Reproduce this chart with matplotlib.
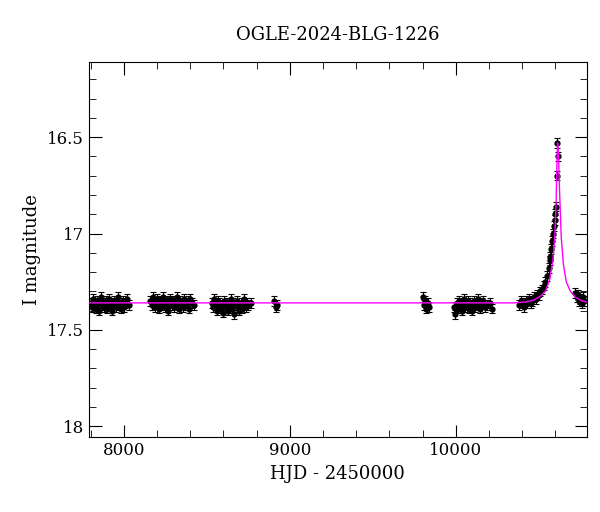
import matplotlib
matplotlib.use('Agg')
import matplotlib.pyplot as plt
from matplotlib.ticker import MultipleLocator

hjd = [
    7800, 7808, 7815, 7822, 7830, 7838, 7845, 7853, 7860, 7868, 7875, 7883, 7890, 7898, 7905,
    7913, 7920, 7928, 7935, 7943, 7950, 7958, 7965, 7973, 7980, 7988, 7995, 8003, 8010, 8020, 8030,
    8160, 8168, 8175, 8183, 8190, 8198, 8205, 8213, 8220, 8228, 8235, 8243, 8250, 8258, 8265,
    8273, 8280, 8288, 8295, 8303, 8310, 8318, 8325, 8333, 8340, 8348, 8355, 8363, 8370, 8378,
    8385, 8393, 8400, 8410, 8420,
    8530, 8538, 8545, 8553, 8560, 8568, 8575, 8583, 8590, 8598, 8605, 8613, 8620, 8628, 8635,
    8643, 8650, 8658, 8665, 8673, 8680, 8688, 8695, 8703, 8710, 8718, 8725, 8733, 8740, 8750, 8765,
    8905, 8915, 8925,
    9800, 9808, 9815, 9823, 9830, 9838,
    9990, 9998, 10005, 10013, 10020, 10028, 10035, 10043, 10050, 10058, 10065, 10073, 10080,
    10088, 10095, 10103, 10110, 10118, 10125, 10133, 10140, 10148, 10155, 10165, 10175, 10190,
    10205, 10220,
    10380, 10390, 10400, 10410, 10420, 10430, 10440, 10450, 10460, 10470, 10480, 10490, 10500,
    10510, 10520, 10530, 10540, 10550, 10560, 10565, 10570, 10575, 10580, 10585, 10590, 10595,
    10598, 10602, 10608, 10612, 10616,
    10720, 10728, 10735, 10742, 10750, 10758, 10765, 10775,
]
mag = [
    17.36, 17.38, 17.34, 17.37, 17.39, 17.35, 17.36, 17.40, 17.33, 17.37, 17.36, 17.38, 17.35,
    17.39, 17.36, 17.34, 17.37, 17.40, 17.36, 17.35, 17.38, 17.36, 17.33, 17.37, 17.39, 17.36,
    17.35, 17.38, 17.36, 17.34, 17.37,
    17.35, 17.37, 17.33, 17.36, 17.38, 17.34, 17.36, 17.39, 17.35, 17.37, 17.33, 17.36, 17.38,
    17.35, 17.40, 17.36, 17.34, 17.37, 17.35, 17.38, 17.36, 17.33, 17.37, 17.39, 17.35, 17.36,
    17.38, 17.34, 17.37, 17.36, 17.35, 17.39, 17.34, 17.36, 17.37,
    17.36, 17.38, 17.34, 17.37, 17.40, 17.35, 17.36, 17.39, 17.37, 17.41, 17.35, 17.38, 17.36,
    17.40, 17.37, 17.34, 17.39, 17.36, 17.42, 17.37, 17.35, 17.38, 17.40, 17.36, 17.39, 17.37,
    17.34, 17.38, 17.36, 17.37, 17.36,
    17.35, 17.38, 17.37,
    17.33, 17.37, 17.35, 17.39, 17.36, 17.38,
    17.38, 17.42, 17.36, 17.39, 17.35, 17.37, 17.40, 17.36, 17.34, 17.38, 17.37, 17.35, 17.39,
    17.36, 17.40, 17.37, 17.35, 17.38, 17.36, 17.34, 17.37, 17.39, 17.36, 17.35, 17.38, 17.37,
    17.36, 17.39,
    17.37, 17.35, 17.36, 17.38, 17.35, 17.36, 17.34, 17.36, 17.35, 17.33, 17.34, 17.32, 17.32,
    17.30, 17.29, 17.27, 17.25, 17.22, 17.18, 17.14, 17.12, 17.08, 17.04, 17.00, 16.96, 16.93,
    16.90, 16.86, 16.70, 16.53, 16.60,
    17.31, 17.33, 17.32, 17.35, 17.34, 17.36, 17.33, 17.35,
]
err = [0.025] * len(mag)

# microlensing model curve samples
model_t = [7780, 10350, 10420, 10470, 10510, 10540, 10565, 10585, 10596, 10604, 10609, 10613,
           10618, 10625, 10635, 10648, 10665, 10690, 10720, 10760, 10790]
model_m = [17.36, 17.36, 17.355, 17.345, 17.325, 17.30, 17.24, 17.14, 17.02, 16.84, 16.64, 16.53,
           16.58, 16.78, 17.02, 17.16, 17.25, 17.30, 17.33, 17.35, 17.355]

plt.rcParams['font.family'] = 'DejaVu Serif'
fig, ax = plt.subplots(figsize=(6.0, 5.12), dpi=100)
fig.subplots_adjust(left=0.148, right=0.978, top=0.879, bottom=0.146)

ax.plot(model_t, model_m, color='magenta', lw=1, zorder=3)
ax.errorbar(hjd, mag, yerr=err, fmt='o', color='black', ms=3.5, elinewidth=0.8,
            capsize=2, capthick=0.8, zorder=2)

ax.set_xlim(7789, 10789)
ax.set_ylim(18.057, 16.11)
ax.xaxis.set_major_locator(MultipleLocator(1000))
ax.xaxis.set_minor_locator(MultipleLocator(200))
ax.yaxis.set_major_locator(MultipleLocator(0.5))
ax.yaxis.set_minor_locator(MultipleLocator(0.1))
ax.yaxis.set_major_formatter(matplotlib.ticker.FuncFormatter(lambda v, p: f'{v:g}'))
ax.tick_params(which='both', direction='in', top=True, right=True, labelsize=12)
ax.tick_params(which='major', length=9)
ax.tick_params(which='minor', length=5)

ax.set_title('OGLE-2024-BLG-1226', fontsize=13, pad=16)
ax.set_xlabel('HJD - 2450000', fontsize=13)
ax.set_ylabel('I magnitude', fontsize=13)

fig.savefig('out.png')
